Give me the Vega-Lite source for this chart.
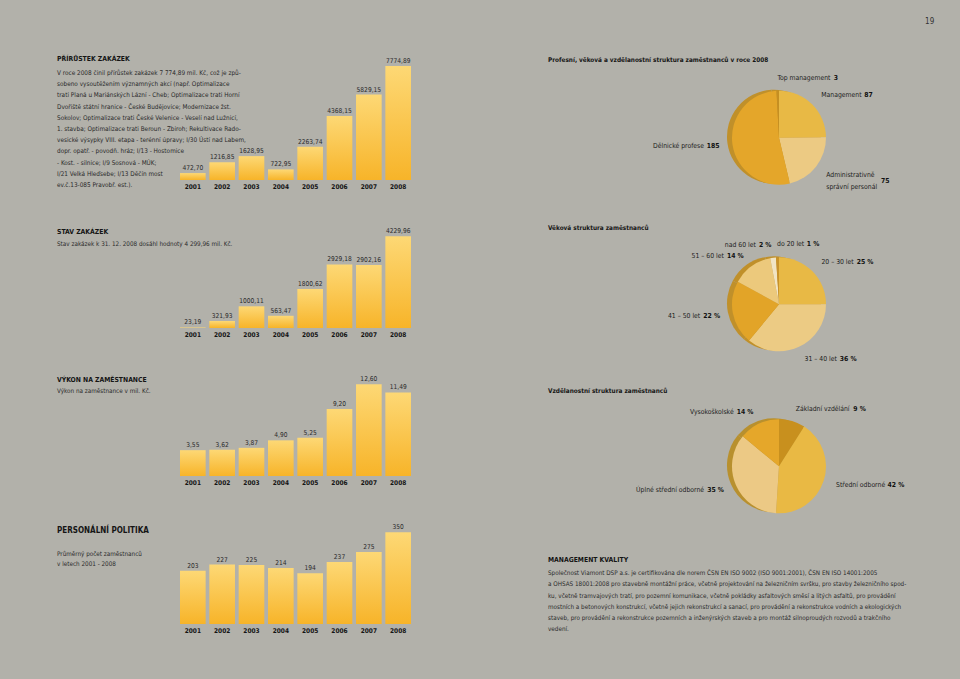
{
  "$schema": "https://vega.github.io/schema/vega-lite/v6.json",
  "background": "#b2b1aa",
  "padding": {"left": 57, "top": 18, "right": 28, "bottom": 47},
  "bounds": "flush",
  "spacing": 551,
  "title": {"text": "19", "anchor": "end", "frame": "bounds", "font": "DejaVu Sans Condensed, Liberation Sans, sans-serif", "fontSize": 8, "fontWeight": "normal", "color": "#333333", "offset": 30, "dx": 28},
  "config": {
    "view": {"stroke": null},
    "font": "DejaVu Sans Condensed, Liberation Sans, sans-serif",
    "locale": {"number": {"decimal": ",", "thousands": " ", "grouping": [3], "currency": ["", ""]}},
    "title": {"font": "DejaVu Sans Condensed, Liberation Sans, sans-serif", "fontSize": 6.8, "fontWeight": "bold", "color": "#151515", "anchor": "start", "frame": "group", "offset": 0, "subtitleFont": "DejaVu Sans Condensed, Liberation Sans, sans-serif", "subtitleFontSize": 6.3, "subtitleColor": "#2a2a2a", "subtitleLineHeight": 11.2, "subtitlePadding": 5},
    "axis": {"grid": false},
    "text": {"font": "DejaVu Sans Condensed, Liberation Sans, sans-serif"}
  },
  "resolve": {"scale": {"x": "independent", "y": "independent", "color": "independent", "theta": "independent"}},
  "hconcat": [
    {
      "bounds": "flush",
      "spacing": 28,
      "resolve": {"scale": {"x": "independent", "y": "independent"}},
      "vconcat": [
        {
          "width": 231, "height": 120,
          "title": {"text": "PŘÍRŮSTEK ZAKÁZEK", "dx": -123, "dy": 134.5, "subtitlePadding": 7, "subtitleFontSize": 6.4, "subtitle": [
            "V roce 2008 činil přírůstek zakázek 7 774,89 mil. Kč, což je způ-",
            "sobeno vysoutěžením významných akcí (např. Optimalizace",
            "trati Planá u Mariánských Lázní - Cheb; Optimalizace trati Horní",
            "Dvořiště státní hranice - České Budějovice; Modernizace žst.",
            "Sokolov; Optimalizace trati České Velenice - Veselí nad Lužnicí,",
            "1. stavba; Optimalizace trati Beroun - Zbiroh; Rekultivace Rado-",
            "vesické výsypky VIII. etapa - terénní úpravy; I/30 Ústí nad Labem,",
            "dopr. opatř. - povodň. hráz;  I/13 - Hostomice",
            "- Kost. - silnice; I/9 Sosnová - MÚK;",
            "I/21 Velká Hleďsebe; I/13 Děčín most",
            "ev.č.13-085 Pravobř. est.)."
          ]},
          "data": {"values": [
            {"year": "2001", "v": 472.70}, {"year": "2002", "v": 1216.85}, {"year": "2003", "v": 1628.95}, {"year": "2004", "v": 722.95},
            {"year": "2005", "v": 2263.74}, {"year": "2006", "v": 4368.15}, {"year": "2007", "v": 5829.15}, {"year": "2008", "v": 7774.89}
          ]},
          "encoding": {
            "x": {"field": "year", "type": "ordinal", "scale": {"paddingInner": 0.126, "paddingOuter": 0}, "axis": {"title": null, "ticks": false, "domain": false, "labelAngle": 0, "labelFontSize": 6.5, "labelFontWeight": "bold", "labelColor": "#151515", "labelPadding": 3}},
            "y": {"field": "v", "type": "quantitative", "scale": {"domain": [0, 8184], "nice": false}, "axis": null}
          },
          "layer": [
            {"mark": {"type": "bar", "color": {"gradient": "linear", "x1": 0, "y1": 0, "x2": 0, "y2": 1, "stops": [{"offset": 0, "color": "#fdd875"}, {"offset": 1, "color": "#f7b429"}]}}},
            {"mark": {"type": "text", "baseline": "bottom", "dy": -2, "fontSize": 6.6, "color": "#2a2a2a"}, "encoding": {"text": {"field": "v", "type": "quantitative", "format": ".2f"}}}
          ]
        },
        {
          "width": 231, "height": 120,
          "title": {"text": "STAV ZAKÁZEK", "dx": -123, "dy": 43.1, "subtitle": "Stav zakázek k 31. 12. 2008 dosáhl hodnoty 4 299,96 mil. Kč."},
          "data": {"values": [
            {"year": "2001", "v": 23.19}, {"year": "2002", "v": 321.93}, {"year": "2003", "v": 1000.11}, {"year": "2004", "v": 563.47},
            {"year": "2005", "v": 1800.62}, {"year": "2006", "v": 2929.18}, {"year": "2007", "v": 2902.16}, {"year": "2008", "v": 4229.96}
          ]},
          "encoding": {
            "x": {"field": "year", "type": "ordinal", "scale": {"paddingInner": 0.126, "paddingOuter": 0}, "axis": {"title": null, "ticks": false, "domain": false, "labelAngle": 0, "labelFontSize": 6.5, "labelFontWeight": "bold", "labelColor": "#151515", "labelPadding": 3}},
            "y": {"field": "v", "type": "quantitative", "scale": {"domain": [0, 5535], "nice": false}, "axis": null}
          },
          "layer": [
            {"mark": {"type": "bar", "color": {"gradient": "linear", "x1": 0, "y1": 0, "x2": 0, "y2": 1, "stops": [{"offset": 0, "color": "#fdd875"}, {"offset": 1, "color": "#f7b429"}]}}},
            {"mark": {"type": "text", "baseline": "bottom", "dy": -2, "fontSize": 6.6, "color": "#2a2a2a"}, "encoding": {"text": {"field": "v", "type": "quantitative", "format": ".2f"}}}
          ]
        },
        {
          "width": 231, "height": 120,
          "title": {"text": "VÝKON NA ZAMĚSTNANCE", "dx": -123, "dy": 42.7, "subtitle": "Výkon na zaměstnance v mil. Kč."},
          "data": {"values": [
            {"year": "2001", "v": 3.55}, {"year": "2002", "v": 3.62}, {"year": "2003", "v": 3.87}, {"year": "2004", "v": 4.90},
            {"year": "2005", "v": 5.25}, {"year": "2006", "v": 9.20}, {"year": "2007", "v": 12.60}, {"year": "2008", "v": 11.49}
          ]},
          "encoding": {
            "x": {"field": "year", "type": "ordinal", "scale": {"paddingInner": 0.126, "paddingOuter": 0}, "axis": {"title": null, "ticks": false, "domain": false, "labelAngle": 0, "labelFontSize": 6.5, "labelFontWeight": "bold", "labelColor": "#151515", "labelPadding": 3}},
            "y": {"field": "v", "type": "quantitative", "scale": {"domain": [0, 16.49], "nice": false}, "axis": null}
          },
          "layer": [
            {"mark": {"type": "bar", "color": {"gradient": "linear", "x1": 0, "y1": 0, "x2": 0, "y2": 1, "stops": [{"offset": 0, "color": "#fdd875"}, {"offset": 1, "color": "#f7b429"}]}}},
            {"mark": {"type": "text", "baseline": "bottom", "dy": -2, "fontSize": 6.6, "color": "#2a2a2a"}, "encoding": {"text": {"field": "v", "type": "quantitative", "format": ".2f"}}}
          ]
        },
        {
          "width": 231, "height": 120,
          "title": {"text": "PERSONÁLNÍ POLITIKA", "fontSize": 8, "dx": -123, "dy": 67.2, "subtitleLineHeight": 10, "subtitlePadding": 15.7, "subtitle": ["Průměrný počet zaměstnanců", "v letech 2001 - 2008"]},
          "data": {"values": [
            {"year": "2001", "v": 203}, {"year": "2002", "v": 227}, {"year": "2003", "v": 225}, {"year": "2004", "v": 214},
            {"year": "2005", "v": 194}, {"year": "2006", "v": 237}, {"year": "2007", "v": 275}, {"year": "2008", "v": 350}
          ]},
          "encoding": {
            "x": {"field": "year", "type": "ordinal", "scale": {"paddingInner": 0.126, "paddingOuter": 0}, "axis": {"title": null, "ticks": false, "domain": false, "labelAngle": 0, "labelFontSize": 6.5, "labelFontWeight": "bold", "labelColor": "#151515", "labelPadding": 3}},
            "y": {"field": "v", "type": "quantitative", "scale": {"domain": [0, 458], "nice": false}, "axis": null}
          },
          "layer": [
            {"mark": {"type": "bar", "color": {"gradient": "linear", "x1": 0, "y1": 0, "x2": 0, "y2": 1, "stops": [{"offset": 0, "color": "#fdd875"}, {"offset": 1, "color": "#f7b429"}]}}},
            {"mark": {"type": "text", "baseline": "bottom", "dy": -2, "fontSize": 6.6, "color": "#2a2a2a"}, "encoding": {"text": {"field": "v", "type": "quantitative", "format": "d"}}}
          ]
        }
      ]
    },
    {
      "bounds": "flush",
      "spacing": 38.3,
      "resolve": {"scale": {"color": "independent", "theta": "independent"}},
      "vconcat": [
        {
          "width": 96, "height": 155.4,
          "title": {"text": "Profesní, věková a vzdělanostní struktura zaměstnanců v roce 2008", "fontSize": 6.4, "dx": -183, "dy": 7.2},
          "data": {"values": [
            {"i": 1, "name": "Management", "value": 87, "label": "87"},
            {"i": 2, "name": "Administrativně\nsprávní personál", "value": 75, "label": "75"},
            {"i": 3, "name": "Dělnické profese", "value": 185, "label": "185"},
            {"i": 4, "name": "Top management", "value": 3, "label": "3"}
          ]},
          "encoding": {
            "theta": {"field": "value", "type": "quantitative", "stack": true},
            "order": {"field": "i", "type": "quantitative"}
          },
          "layer": [
            {"mark": {"type": "arc", "outerRadius": 47, "xOffset": -5, "yOffset": -1, "color": "#c0902a"}},
            {"mark": {"type": "arc", "outerRadius": 47}, "encoding": {"color": {"field": "name", "type": "nominal", "legend": null, "scale": {"domain": ["Management", "Administrativně\nsprávní personál", "Dělnické profese", "Top management"], "range": ["#e8b945", "#ecca83", "#e4a62a", "#c58f22"]}}}},
            {"mark": {"type": "text", "radius": 60, "fontSize": 6.8, "color": "#1c1c1c", "baseline": "middle", "lineBreak": "\n", "lineHeight": 12,
              "align": {"expr": "sin((datum.value_start+datum.value_end)*PI/350) >= -0.06 ? 'left' : 'right'"},
              "dx": {"expr": "sin((datum.value_start+datum.value_end)*PI/350) >= -0.06 ? 0 : -(length(datum.label)*4.2+3)"}},
             "encoding": {"text": {"field": "name"}}},
            {"mark": {"type": "text", "radius": 60, "fontSize": 6.8, "fontWeight": "bold", "color": "#111111", "baseline": "middle",
              "align": {"expr": "sin((datum.value_start+datum.value_end)*PI/350) >= -0.06 ? 'left' : 'right'"},
              "dx": {"expr": "sin((datum.value_start+datum.value_end)*PI/350) >= -0.06 ? (length(peek(split(datum.name,'\\n')))*3.8 - 2.0*length(replace(peek(split(datum.name,'\\n')), regexp('[^iljí .,]','g'), '')) - 1.5*length(replace(peek(split(datum.name,'\\n')), regexp('[^tfrř]','g'), '')) + 1.8*length(replace(peek(split(datum.name,'\\n')), regexp('[^mwMW]','g'), '')) + 3) : 0"},
              "dy": {"expr": "indexof(datum.name,'\\n') >= 0 ? 6 : 0"}},
             "encoding": {"text": {"field": "label"}}}
          ]
        },
        {
          "width": 96, "height": 100,
          "title": {"text": "Věková struktura zaměstnanců", "fontSize": 6.4, "dx": -183, "dy": -5.8},
          "data": {"values": [
            {"i": 1, "name": "20 – 30 let", "value": 25, "label": "25 %"},
            {"i": 2, "name": "31 – 40 let", "value": 36, "label": "36 %"},
            {"i": 3, "name": "41 – 50 let", "value": 22, "label": "22 %"},
            {"i": 4, "name": "51 – 60 let", "value": 14, "label": "14 %"},
            {"i": 5, "name": "nad 60 let", "value": 2, "label": "2 %"},
            {"i": 6, "name": "do 20 let", "value": 1, "label": "1 %"}
          ]},
          "encoding": {
            "theta": {"field": "value", "type": "quantitative", "stack": true},
            "order": {"field": "i", "type": "quantitative"}
          },
          "layer": [
            {"mark": {"type": "arc", "outerRadius": 47, "xOffset": -5, "yOffset": -1, "color": "#c0902a"}},
            {"mark": {"type": "arc", "outerRadius": 47}, "encoding": {"color": {"field": "name", "type": "nominal", "legend": null, "scale": {"domain": ["20 – 30 let", "31 – 40 let", "41 – 50 let", "51 – 60 let", "nad 60 let", "do 20 let"], "range": ["#e8b945", "#eccb84", "#e2a428", "#ecc97c", "#f1e4c4", "#c8922a"]}}}},
            {"mark": {"type": "text", "radius": 60, "fontSize": 6.8, "color": "#1c1c1c", "baseline": "middle",
              "align": {"expr": "sin((datum.value_start+datum.value_end)*PI/100) >= -0.06 ? 'left' : 'right'"},
              "dx": {"expr": "sin((datum.value_start+datum.value_end)*PI/100) >= -0.06 ? 0 : -(length(datum.label)*4.2+3)"}},
             "encoding": {"text": {"field": "name"}}},
            {"mark": {"type": "text", "radius": 60, "fontSize": 6.8, "fontWeight": "bold", "color": "#111111", "baseline": "middle",
              "align": {"expr": "sin((datum.value_start+datum.value_end)*PI/100) >= -0.06 ? 'left' : 'right'"},
              "dx": {"expr": "sin((datum.value_start+datum.value_end)*PI/100) >= -0.06 ? (length(datum.name)*3.8 - 2.0*length(replace(datum.name, regexp('[^iljí .,]','g'), '')) - 1.5*length(replace(datum.name, regexp('[^tfrř]','g'), '')) + 1.8*length(replace(datum.name, regexp('[^mwMW]','g'), '')) + 3) : 0"}},
             "encoding": {"text": {"field": "label"}}}
          ]
        },
        {
          "width": 96, "height": 147.4,
          "title": {"text": "Vzdělanostní struktura zaměstnanců", "fontSize": 6.4, "dx": -183, "dy": 6.2},
          "data": {"values": [
            {"i": 1, "name": "Základní vzdělání", "value": 9, "label": "9 %"},
            {"i": 2, "name": "Střední odborné", "value": 42, "label": "42 %"},
            {"i": 3, "name": "Úplné střední odborné", "value": 35, "label": "35 %"},
            {"i": 4, "name": "Vysokoškolské", "value": 14, "label": "14 %"}
          ]},
          "encoding": {
            "theta": {"field": "value", "type": "quantitative", "stack": true},
            "order": {"field": "i", "type": "quantitative"}
          },
          "layer": [
            {"mark": {"type": "arc", "outerRadius": 47, "xOffset": -5, "yOffset": -1, "color": "#b8902e"}},
            {"mark": {"type": "arc", "outerRadius": 47}, "encoding": {"color": {"field": "name", "type": "nominal", "legend": null, "scale": {"domain": ["Základní vzdělání", "Střední odborné", "Úplné střední odborné", "Vysokoškolské"], "range": ["#c8901e", "#e9b944", "#ecc985", "#e5a72a"]}}}},
            {"mark": {"type": "text", "radius": 60, "fontSize": 6.8, "color": "#1c1c1c", "baseline": "middle",
              "align": {"expr": "sin((datum.value_start+datum.value_end)*PI/100) >= -0.06 ? 'left' : 'right'"},
              "dx": {"expr": "sin((datum.value_start+datum.value_end)*PI/100) >= -0.06 ? 0 : -(length(datum.label)*4.2+3)"}},
             "encoding": {"text": {"field": "name"}}},
            {"mark": {"type": "text", "radius": 60, "fontSize": 6.8, "fontWeight": "bold", "color": "#111111", "baseline": "middle",
              "align": {"expr": "sin((datum.value_start+datum.value_end)*PI/100) >= -0.06 ? 'left' : 'right'"},
              "dx": {"expr": "sin((datum.value_start+datum.value_end)*PI/100) >= -0.06 ? (length(datum.name)*3.8 - 2.0*length(replace(datum.name, regexp('[^iljí .,]','g'), '')) - 1.5*length(replace(datum.name, regexp('[^tfrř]','g'), '')) + 1.8*length(replace(datum.name, regexp('[^mwMW]','g'), '')) + 3) : 0"}},
             "encoding": {"text": {"field": "label"}}}
          ]
        },
        {
          "width": 96, "height": 1,
          "title": {"text": "MANAGEMENT KVALITY", "dx": -183, "dy": 63.2, "subtitleFontSize": 6.3, "subtitlePadding": 6.3, "subtitle": [
            "Společnost Viamont DSP a.s. je certifikována dle norem ČSN EN ISO 9002 (ISO 9001:2001), ČSN EN ISO 14001:2005",
            "a OHSAS 18001:2008 pro stavebně montážní práce, včetně projektování na železničním svršku, pro stavby železničního spod-",
            "ku, včetně tramvajových tratí, pro pozemní komunikace, včetně pokládky asfaltových směsí a litých asfaltů, pro provádění",
            "mostních a betonových konstrukcí, včetně jejich rekonstrukcí a sanací, pro provádění a rekonstrukce vodních a ekologických",
            "staveb, pro provádění a rekonstrukce pozemních a inženýrských staveb a pro montáž silnoproudých rozvodů a trakčního",
            "vedení."
          ]},
          "data": {"values": [{"t": ""}]},
          "mark": {"type": "text"},
          "encoding": {"text": {"field": "t"}}
        }
      ]
    }
  ]
}
